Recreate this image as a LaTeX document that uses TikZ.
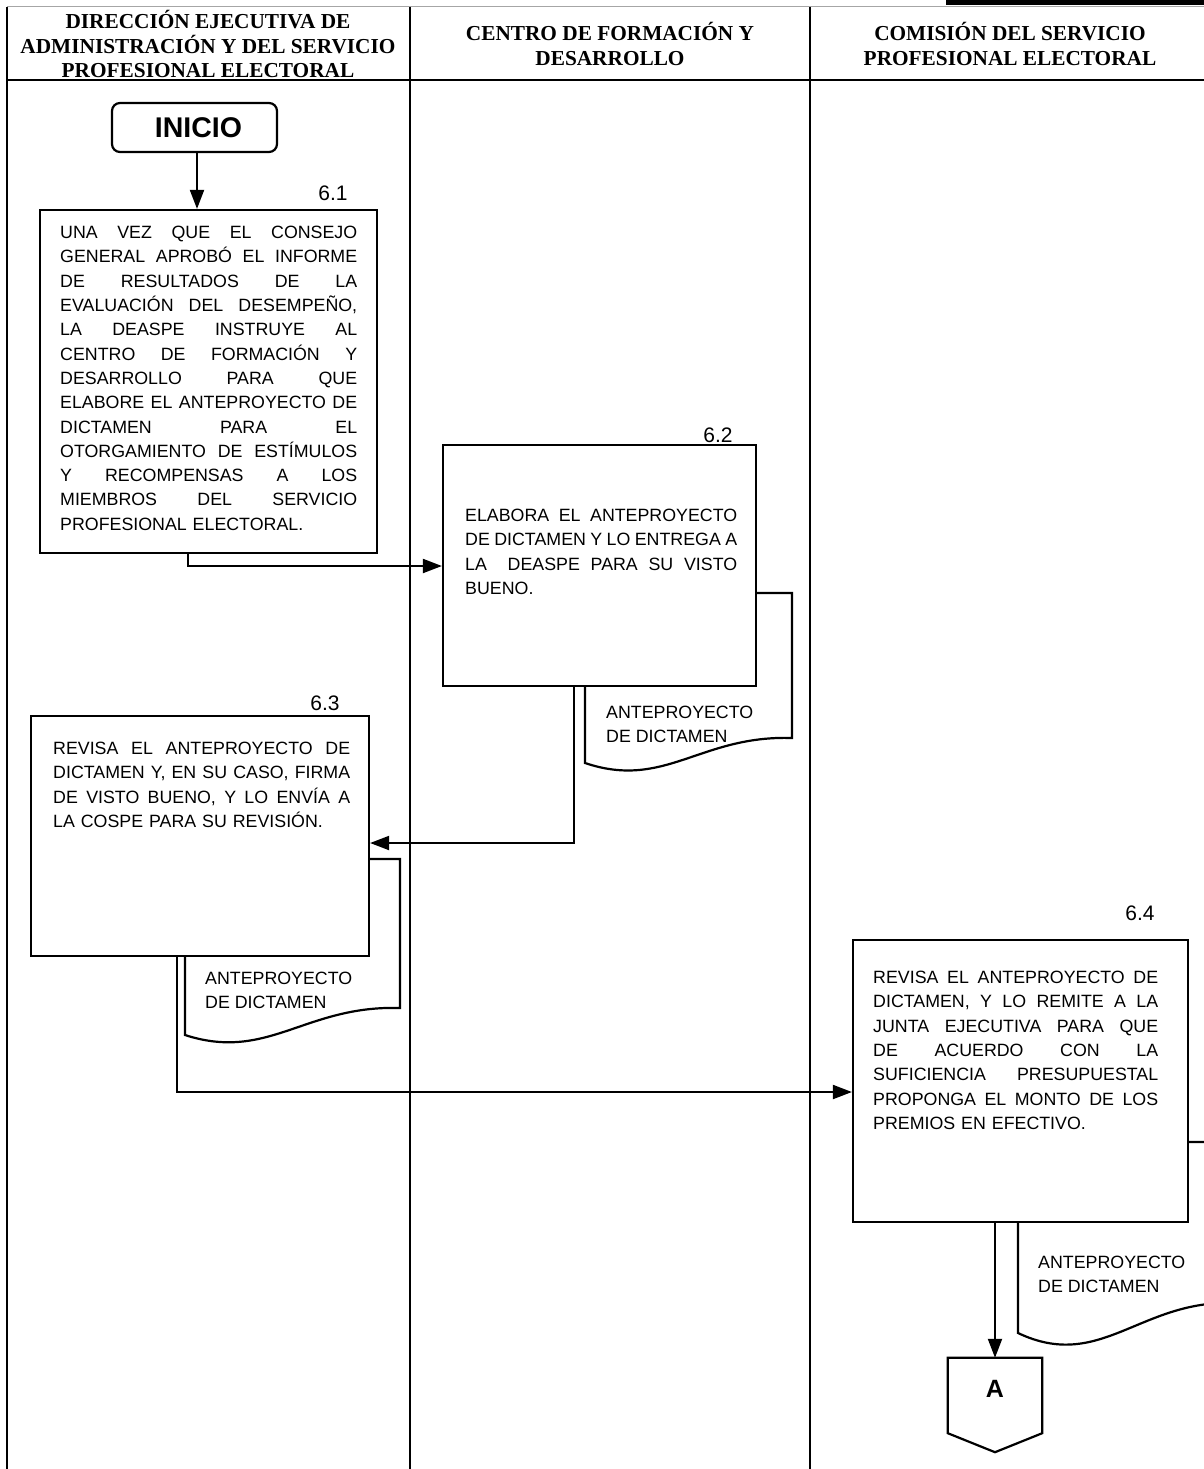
\documentclass[tikz,border=0pt]{standalone}
\usepackage{fontspec}
\setmainfont{Liberation Serif}
\setsansfont{Liberation Sans}
\usetikzlibrary{arrows.meta,calc}
\setlength\parindent{0pt}
\newcommand\jl[2]{\leavevmode\hbox to #1{\spaceskip=.278em plus 1fil minus .1em\relax #2}\\}
\begin{document}
\begin{tikzpicture}[x=1pt,y=-1pt,
  lane/.style={line width=2.8pt},
  box/.style={draw,line width=2.2pt,fill=white,inner sep=0pt},
  hdr/.style={font=\bfseries\fontsize{21.3}{24.3}\selectfont,align=center,inner sep=0pt},
  body/.style={font=\sffamily\fontsize{17.8}{24.3}\selectfont,align=left,inner sep=0pt,anchor=north west},
  lbl/.style={font=\sffamily\fontsize{21}{24}\selectfont,inner sep=0pt},
  doc/.style={draw,line width=2.2pt,fill=white},
  arr/.style={line width=2pt,-{Triangle[length=19pt,width=14pt]}},
  conn/.style={line width=2pt}]
\useasboundingbox (0,0) rectangle (1204,1469);
% header and lanes
\draw[gray!70,line width=1pt] (7,7) -- (1204,7);
\draw[line width=5pt] (946,3) -- (1204,3);
\draw[lane] (7,80) -- (1204,80);
\draw[lane] (7,7) -- (7,1469);
\draw[lane] (410,7) -- (410,1469);
\draw[lane] (810,7) -- (810,1469);
\node[hdr] (h1) at (208,44) {DIRECCIÓN EJECUTIVA DE\\ADMINISTRACIÓN Y DEL SERVICIO\\PROFESIONAL ELECTORAL};
\node[hdr] (h2) at (610,44) {CENTRO DE FORMACIÓN Y\\DESARROLLO};
\node[hdr] (h3) at (1010,44) {COMISIÓN DEL SERVICIO\\PROFESIONAL ELECTORAL};
% documents (behind boxes)
\path[doc] (585,640) -- (585,763) .. controls (665,790) and (700,735) .. (792,738) -- (792,593) -- (740,593) -- cycle;
\path[doc] (185,900) -- (185,1035) .. controls (268,1062) and (305,1005) .. (400,1008) -- (400,859) -- (350,859) -- cycle;
\path[doc] (1018,1180) -- (1018,1333) .. controls (1100,1372) and (1140,1300) .. (1233,1303) -- (1233,1142) -- (1150,1142) -- cycle;
\node[body] (d62) at (606,706) {ANTEPROYECTO\\DE DICTAMEN};
\node[body] (d63) at (205,972) {ANTEPROYECTO\\DE DICTAMEN};
\node[body] (d64) at (1038,1256) {ANTEPROYECTO\\DE DICTAMEN};
% start
\node[box,rounded corners=8pt,minimum width=165pt,minimum height=49pt,font=\sffamily\bfseries\fontsize{28.5}{30}\selectfont] (ini) at (194.5,127.5) {\hspace*{8pt}INICIO};
% process boxes
\node[box,minimum width=337pt,minimum height=343pt] (b61) at (208.5,381.5) {};
\node[box,minimum width=313pt,minimum height=241pt] (b62) at (599.5,565.5) {};
\node[box,minimum width=338pt,minimum height=240pt] (b63) at (200,836) {};
\node[box,minimum width=335pt,minimum height=282pt] (b64) at (1020.5,1081) {};
\node[lbl] (l61) at (333,193) {6.1};
\node[lbl] (l62) at (718,435) {6.2};
\node[lbl] (l63) at (325,703) {6.3};
\node[lbl] (l64) at (1140,913) {6.4};
\node[body,text width=297pt] (t61) at (60,226) {%
\jl{297pt}{UNA VEZ QUE EL CONSEJO}
\jl{297pt}{GENERAL APROBÓ EL INFORME}
\jl{297pt}{DE RESULTADOS DE LA}
\jl{297pt}{EVALUACIÓN DEL DESEMPEÑO,}
\jl{297pt}{LA DEASPE INSTRUYE AL}
\jl{297pt}{CENTRO DE FORMACIÓN Y}
\jl{297pt}{DESARROLLO PARA QUE}
\jl{297pt}{ELABORE EL ANTEPROYECTO DE}
\jl{297pt}{DICTAMEN PARA EL}
\jl{297pt}{OTORGAMIENTO DE ESTÍMULOS}
\jl{297pt}{Y RECOMPENSAS A LOS}
\jl{297pt}{MIEMBROS DEL SERVICIO}
PROFESIONAL ELECTORAL.};
\node[body,text width=272pt] (t62) at (465,509) {%
\jl{272pt}{ELABORA EL ANTEPROYECTO}
\jl{272pt}{DE DICTAMEN Y LO ENTREGA A}
\jl{272pt}{LA\hspace{10pt} DEASPE PARA SU VISTO}
BUENO.};
\node[body,text width=297pt] (t63) at (53,742) {%
\jl{297pt}{REVISA EL ANTEPROYECTO DE}
\jl{297pt}{DICTAMEN Y, EN SU CASO, FIRMA}
\jl{297pt}{DE VISTO BUENO, Y LO ENVÍA A}
LA COSPE PARA SU REVISIÓN.};
\node[body,text width=285pt] (t64) at (873,971) {%
\jl{285pt}{REVISA EL ANTEPROYECTO DE}
\jl{285pt}{DICTAMEN, Y LO REMITE A LA}
\jl{285pt}{JUNTA EJECUTIVA PARA QUE}
\jl{285pt}{DE ACUERDO CON LA}
\jl{285pt}{SUFICIENCIA PRESUPUESTAL}
\jl{285pt}{PROPONGA EL MONTO DE LOS}
PREMIOS EN EFECTIVO.};
% off-page connector
\node[inner sep=0pt,minimum width=94pt,minimum height=75pt,font=\sffamily\bfseries\fontsize{25}{28}\selectfont,text depth=0pt] (A) at (995,1395.5) {\raisebox{14pt}{A}};
\draw[line width=2.2pt,line join=miter] (A.north west) -- (A.north east) -- (A.south east) -- ($(A.south)+(0,19)$) -- (A.south west) -- cycle;
% connectors
\coordinate (c1) at (188,566);
\coordinate (c2) at (574,843);
\coordinate (c3) at (177,1092);
\draw[arr] (ini.south -| 197,0) -- (b61.north -| 197,0);
\draw[arr] (b61.south -| c1) |- (b62.west |- c1);
\draw[arr] (b62.south -| c2) |- (b63.east |- c2);
\draw[arr] (b63.south -| c3) |- (b64.west |- c3);
\draw[arr] (b64.south -| A.north) -- (A.north);
\end{tikzpicture}
\end{document}
